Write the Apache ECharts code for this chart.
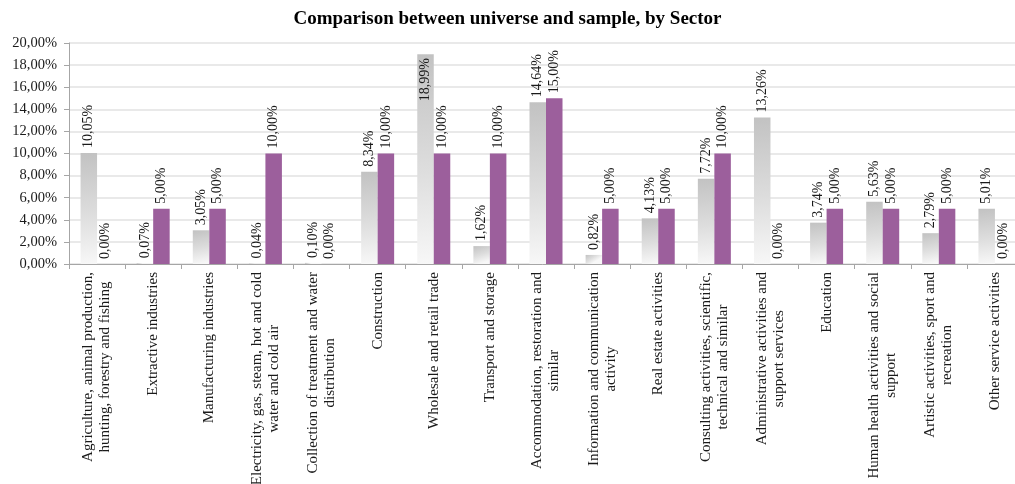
<!DOCTYPE html>
<html>
<head>
<meta charset="utf-8">
<script src="https://cdn.jsdelivr.net/npm/echarts@6/dist/echarts.min.js"></script>
<style>
  html, body { margin: 0; padding: 0; background: #fff; }
  #chart { width: 1015px; height: 484px; }
</style>
</head>
<body>
<div id="chart"></div>
<script>
// Sectors (line breaks as they wrap under the axis)
const sectors = [
  "Agriculture, animal production,\nhunting, forestry and fishing",
  "Extractive industries",
  "Manufacturing industries",
  "Electricity, gas, steam, hot and cold\nwater and cold air",
  "Collection of treatment and water\ndistribution",
  "Construction",
  "Wholesale and retail trade",
  "Transport and storage",
  "Accommodation, restoration and\nsimilar",
  "Information and communication\nactivity",
  "Real estate activities",
  "Consulting activities, scientific,\ntechnical and similar",
  "Administrative activities and\nsupport services",
  "Education",
  "Human health activities and social\nsupport",
  "Artistic activities, sport and\nrecreation",
  "Other service activities"
];

// Share of each sector, in percent
const universe = [10.05, 0.07, 3.05, 0.04, 0.10, 8.34, 18.99, 1.62, 14.64, 0.82, 4.13, 7.72, 13.26, 3.74, 5.63, 2.79, 5.01];
const sample   = [0, 5, 5, 10, 0, 10, 10, 10, 15, 5, 5, 10, 0, 5, 5, 5, 0];

const yMin = 0, yMax = 20, yStep = 2;

const SERIF = '"Liberation Serif", "Times New Roman", serif';
const pct = v => Number(v).toFixed(2).replace('.', ',') + '%';

const barLabel = {
  show: true,
  position: 'top',
  rotate: 90,
  align: 'left',
  verticalAlign: 'middle',
  distance: 5,
  fontFamily: SERIF,
  fontSize: 14,
  color: '#1a1a1a',
  formatter: p => pct(p.value)
};

// Tall bars carry their label inside the top of the bar
function withLabels(values) {
  return values.map(v => v > 17
    ? { value: v, label: { position: 'insideTop', align: 'right', distance: 4 } }
    : v);
}

const chart = echarts.init(document.getElementById('chart'), null, { renderer: 'canvas' });

chart.setOption({
  animation: false,
  backgroundColor: '#ffffff',
  title: {
    text: 'Comparison between universe and sample, by Sector',
    left: 'center',
    top: 5,
    padding: [5, 0, 5, 8],
    textStyle: { fontFamily: SERIF, fontWeight: 'bold', fontSize: 19, color: '#000' }
  },
  grid: { left: 69, top: 43, bottom: 220, width: 954, containLabel: false, outerBoundsMode: 'none' },
  xAxis: {
    type: 'category',
    data: sectors,
    axisLine: { lineStyle: { color: '#a6a6a6', width: 1 } },
    axisTick: { show: true, length: 5, lineStyle: { color: '#a6a6a6' } },
    axisLabel: {
      interval: 0,
      rotate: 90,
      margin: 8,
      color: '#1a1a1a',
      fontFamily: SERIF,
      fontSize: 15,
      lineHeight: 17,
      formatter: v => v.split('\n').map(l => '{c|' + l + '}').join('\n'),
      rich: { c: { align: 'center', fontFamily: SERIF, fontSize: 15, lineHeight: 17, color: '#1a1a1a' } }
    }
  },
  yAxis: {
    type: 'value',
    min: yMin,
    max: yMax,
    interval: yStep,
    axisLine: { show: true, lineStyle: { color: '#a6a6a6', width: 1 } },
    axisTick: { show: true, length: 5, lineStyle: { color: '#a6a6a6' } },
    splitLine: { lineStyle: { color: '#e2e2e2', width: 1.5 } },
    axisLabel: {
      margin: 12,
      color: '#1a1a1a',
      fontFamily: SERIF,
      fontSize: 14.5,
      formatter: v => pct(v)
    }
  },
  series: [
    {
      name: 'Universe',
      type: 'bar',
      data: withLabels(universe),
      barWidth: 16.5,
      barGap: '0%',
      itemStyle: {
        color: new echarts.graphic.LinearGradient(0, 0, 0.35, 1, [
          { offset: 0, color: '#c2c2c2' },
          { offset: 0.55, color: '#dddddd' },
          { offset: 1, color: '#f7f7f7' }
        ])
      },
      label: barLabel
    },
    {
      name: 'Sample',
      type: 'bar',
      data: sample,
      barWidth: 16.5,
      barGap: '0%',
      itemStyle: { color: '#9c5f9c' },
      label: barLabel
    }
  ]
});
</script>
</body>
</html>
